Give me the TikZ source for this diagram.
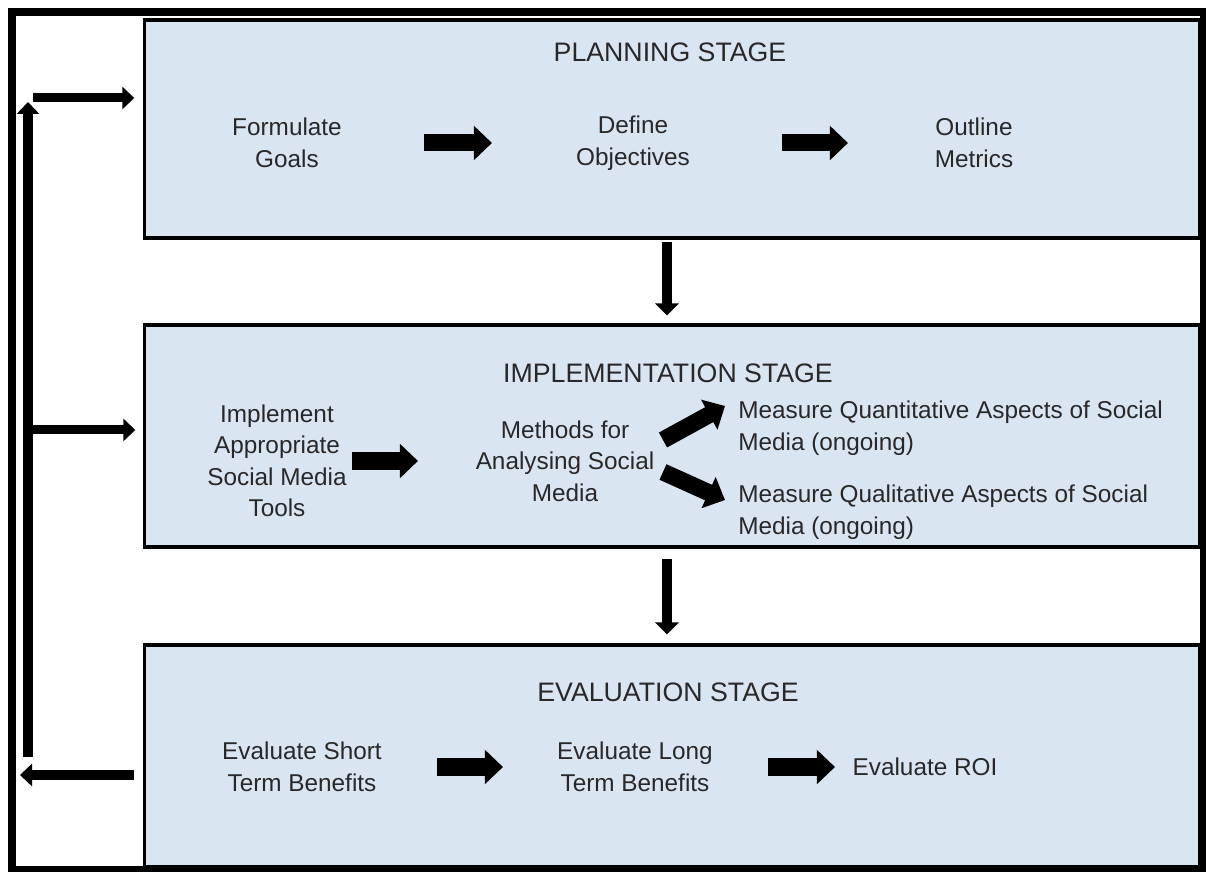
\documentclass[tikz,border=0pt]{standalone}
\usepackage{fontspec}
\setmainfont{Liberation Sans}
\usepackage{xcolor}
\usepackage{tikz}
\usetikzlibrary{positioning}
\usetikzlibrary{arrows, arrows.meta, calc}
\definecolor{stagefill}{RGB}{218,229,242}
\definecolor{txtgray}{RGB}{40,40,40}

\begin{document}
\begin{tikzpicture}[x=0.025cm, y=-0.025cm,
    stagebox/.style={draw=black, line width=2.2pt, fill=stagefill, minimum width=26.35cm},
    stagetitle/.style={text=txtgray, inner sep=0pt, font=\fontsize{19}{23}\selectfont},
    txt/.style={text=txtgray, align=center, inner sep=0pt, font=\fontsize{17.3}{22.4}\selectfont},
    fat/.style={line width=0.425cm, -{Triangle[length=0.45cm, width=0.83cm]}},
    downarrow/.style={line width=0.25cm, -{Triangle[length=0.3cm, width=0.58cm]}},
    feedback/.style={line width=0.225cm, -{Triangle[length=0.3cm, width=0.55cm]}}]

    \useasboundingbox (0,0) rectangle (1206,872);
    \draw[line width=0.2cm] (12,12) rectangle (1204,870);

    % stages
    \node[stagebox, minimum height=5.45cm] (plan) at (672,129) {};
    \node[stagebox, minimum height=5.55cm] (impl) at (672,436) {};
    \node[stagebox, minimum height=5.55cm] (eval) at (672,756) {};

    \node[stagetitle] (plantitle) at (670,52) {PLANNING STAGE};
    \node[stagetitle] (impltitle) at (668,373) {IMPLEMENTATION STAGE};
    \node[stagetitle] (evaltitle) at (668,692) {EVALUATION STAGE};

    % planning
    \node[txt] (goals) at (287,143) {Formulate\\Goals};
    \node[txt] (objectives) at (633,143) {Define\\Objectives};
    \node[txt] (metrics) at (974,143) {Outline\\Metrics};
    \draw[fat, shorten <=3.425cm, shorten >=3.525cm] (goals.center) -- (objectives.center);
    \draw[fat, shorten <=3.725cm, shorten >=3.15cm] (objectives.center) -- (metrics.center);

    % implementation
    \node[txt] (tools) at (277,461) {Implement\\Appropriate\\Social Media\\Tools};
    \node[txt] (methods) at (565,461) {Methods for\\Analysing Social\\Media};
    \node[txt, align=left, anchor=west] (quant) at (738,428) {Measure Quantitative Aspects of Social\\Media (ongoing)};
    \node[txt, align=left, anchor=west] (quali) at (738,512) {Measure Qualitative Aspects of Social\\Media (ongoing)};
    \draw[fat, shorten <=1.875cm, shorten >=3.675cm] (tools.center) -- (methods.center);
    \draw[fat] ($(methods)+(98,-21)$) -- ($(quant.west)+(-13,-22)$);
    \draw[fat] ($(methods)+(98,11)$) -- ($(quali.west)+(-13,-12)$);

    % evaluation
    \node[txt] (short) at (302,767) {Evaluate Short\\Term Benefits};
    \node[txt] (long) at (635,767) {Evaluate Long\\Term Benefits};
    \node[txt] (roi) at (925,767) {Evaluate ROI};
    \draw[fat, shorten <=3.375cm, shorten >=3.3cm] (short.center) -- (long.center);
    \draw[fat, shorten <=3.325cm, shorten >=2.25cm] (long.center) -- (roi.center);

    % between stages
    \draw[downarrow, shorten <=0.05cm, shorten >=0.2cm] ([xshift=-0.125cm]plan.south) -- ([xshift=-0.125cm]impl.north);
    \draw[downarrow, shorten <=0.25cm, shorten >=0.225cm] ([xshift=-0.125cm]impl.south) -- ([xshift=-0.125cm]eval.north);

    % feedback loop
    \coordinate (loopout) at (20,775);
    \coordinate (loopbot) at (28,757);
    \coordinate (looptop) at (28,102);
    \coordinate (loopplan) at (33,98);
    \coordinate (loopimpl) at (24,430);
    \draw[feedback, shorten <=0.225cm] (eval.west |- loopout) -- (loopout);
    \draw[feedback] (loopbot) -- (looptop);
    \draw[feedback, shorten >=0.225cm] (loopplan) -- (plan.west |- loopplan);
    \draw[feedback, shorten >=0.2cm] (loopimpl) -- (impl.west |- loopimpl);

\end{tikzpicture}
\end{document}
